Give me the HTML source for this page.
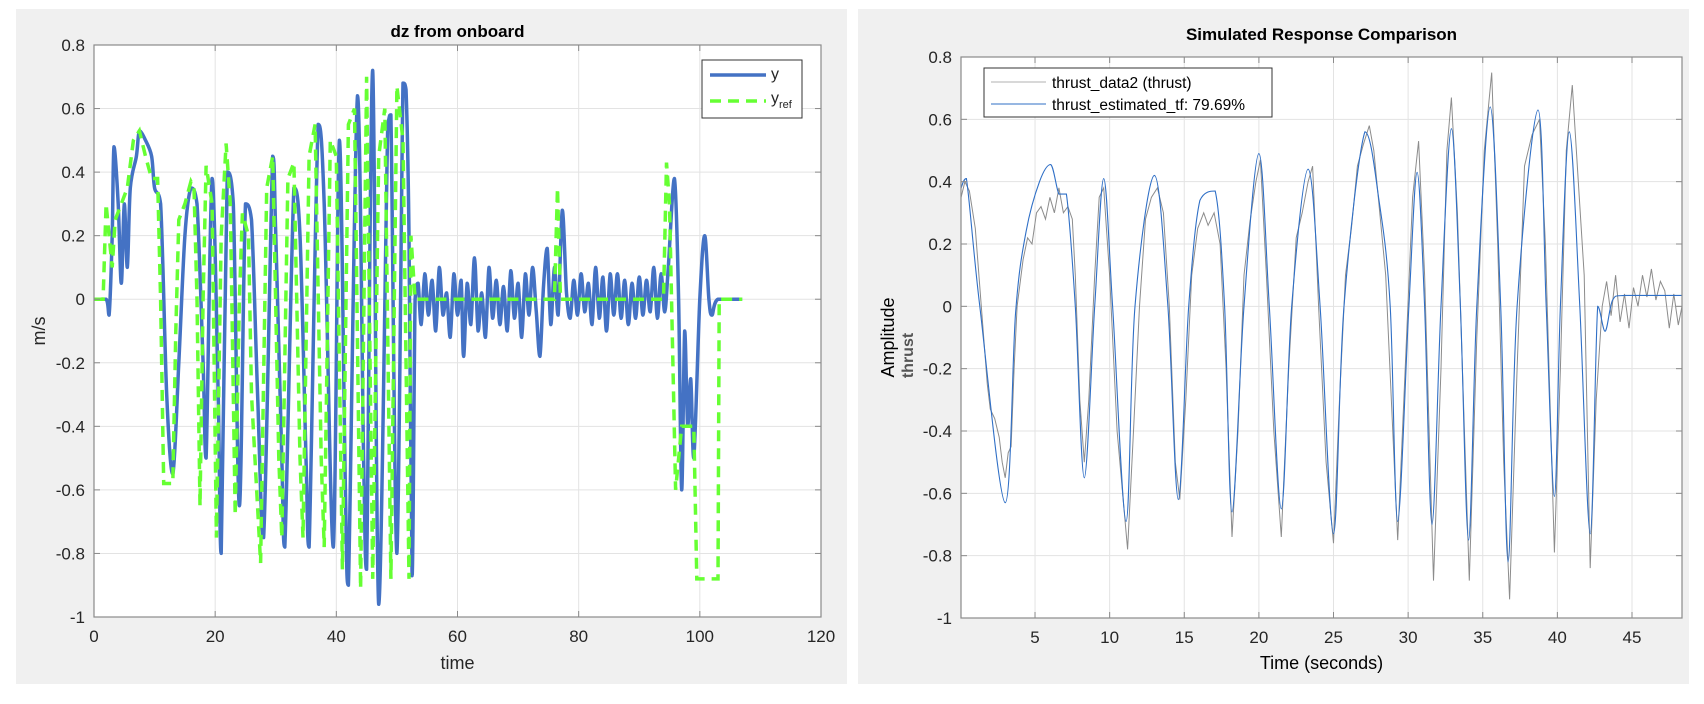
<!DOCTYPE html>
<html><head><meta charset="utf-8">
<style>
html,body{margin:0;padding:0;background:#fff;}
body{width:1704px;height:699px;overflow:hidden;font-family:"Liberation Sans",sans-serif;}
svg text{font-family:"Liberation Sans",sans-serif;}
</style></head>
<body>
<svg id="root" width="1704" height="699" xmlns="http://www.w3.org/2000/svg">
<rect x="0" y="0" width="1704" height="699" fill="#ffffff"/>
<rect x="16" y="9" width="831" height="675" fill="#f0f0f0"/>
<rect x="858" y="9" width="831" height="675" fill="#f0f0f0"/>
<g id="left"></g>
<g id="right"></g>
</svg>
<script>
// ---------- LEFT CHART DATA ----------
const leftXTicks = [0,20,40,60,80,100,120];
const leftYTicks = [0.8,0.6,0.4,0.2,0,-0.2,-0.4,-0.6,-0.8,-1];
const yTimes = [0,2,2.5,3,3.3,4,4.5,5,5.5,6,7,7.5,8.5,9.5,10,11,12,13,14,15,16,17,18,18.5,19.5,20.5,21,22,23,24,25,26,27,28,29.5,30,31,31.5,33,34,35,35.5,37,38,39.5,40.5,41.5,42,43.5,44.5,45,46,47,48.5,49,50,51,51.5,52,52.5,53,53.5,54,54.6,55.2,55.8,56.4,57,57.6,58.2,58.8,59.4,60,60.6,61,61.6,62.2,62.8,63.4,64,64.6,65.2,65.8,66.4,67,67.6,68.2,68.8,69.4,70,70.6,71.2,71.8,72.4,73,73.6,74.2,74.8,75.4,76,76.6,77.3,78,78.6,79.2,79.8,80.4,81,81.6,82.2,82.8,83.4,84,84.6,85.2,85.8,86.4,87,87.6,88.2,88.8,89.4,90,90.6,91.2,91.8,92.4,93,93.6,94.2,94.8,95.8,96.5,97,97.5,98,98.5,99,100,100.8,101.5,102,103,107];
const yValues = [0,0,-0.05,0.2,0.48,0.3,0.05,0.3,0.1,0.35,0.45,0.53,0.5,0.45,0.35,0.3,-0.3,-0.55,-0.2,0.2,0.35,0.3,-0.2,-0.5,0.38,-0.3,-0.8,0.4,0.3,-0.65,0.3,0.25,-0.3,-0.75,0.45,0.2,-0.5,-0.78,0.35,0.2,-0.5,-0.78,0.55,0.3,-0.78,0.5,-0.6,-0.9,0.64,-0.5,-0.85,0.72,-0.96,0.55,0.58,-0.8,0.68,0.66,0.2,-0.87,0.0,0.05,-0.08,0.08,-0.05,0.06,-0.1,0.1,-0.05,0.02,-0.12,0.08,-0.05,0.06,-0.18,0.05,-0.08,0.13,-0.1,0.02,-0.12,0.1,-0.06,0.06,-0.08,0.04,-0.1,0.09,-0.06,0.05,-0.12,0.08,-0.05,0.1,-0.04,-0.18,0.04,0.16,-0.08,0.1,-0.05,0.28,0.02,-0.06,0.06,-0.05,0.08,-0.04,0.05,-0.08,0.1,-0.06,0.07,-0.1,0.08,-0.05,0.08,-0.06,0.06,-0.08,0.05,-0.06,0.07,-0.05,0.06,-0.04,0.1,-0.06,0.08,-0.04,0.1,0.38,0,-0.6,-0.1,-0.4,-0.25,-0.5,0,0.2,0,-0.05,0,0];
const refTimes = [0,1.5,2,2.5,3,3.5,4.5,5.5,6.5,7.5,8.5,9.5,10.5,11,11.5,13,13.5,14,15,16,16.5,17,17.5,18,18.5,19.5,20.2,21,21.8,22.5,23.3,24,24.5,25.5,26,27.5,28.5,29.5,30.5,31,32,33,34,34.5,35.5,36.5,37.5,38,39,40,41,42,43,44,45,46,47,48,49,50,51,52,52.3,53,76,76.5,77,94,94.5,95,96,97,99,99.5,103,103.2,107];
const refValues = [0,0,0.3,0.2,0.1,0.25,0.3,0.35,0.5,0.53,0.45,0.38,0.38,0,-0.58,-0.58,-0.1,0.25,0.3,0.37,0.35,0,-0.65,0,0.42,0.3,-0.75,0.2,0.49,0.3,-0.68,0,0.27,0.2,-0.3,-0.83,0.35,0.45,-0.5,-0.75,0.38,0.43,-0.5,-0.75,0.45,0.55,-0.5,-0.78,0.5,0.45,-0.85,0.55,0.6,-0.91,0.7,-0.88,0.45,0.6,-0.88,0.67,0.5,-0.88,0.2,0,0,0.35,0,0,0.43,0.3,-0.6,-0.4,-0.4,-0.88,-0.88,0,0];

// ---------- RIGHT CHART DATA ----------
const rightXTicks = [5,10,15,20,25,30,35,40,45];
const rightYTicks = [0.8,0.6,0.4,0.2,0,-0.2,-0.4,-0.6,-0.8,-1];
const estTimes = [0.05,0.4,1.3,3.0,3.7,4.4,5.3,6.05,6.6,7.1,7.7,8.3,9.0,9.6,10.2,11.1,11.7,13.0,13.9,14.6,15.3,16.05,17.07,17.7,18.2,19.0,20.0,20.7,21.5,22.2,23.3,24.1,25.0,25.7,27.1,28.05,28.8,29.3,30.05,30.6,31.1,31.6,32.2,32.9,33.5,34.05,34.6,35.5,36.2,36.7,37.3,38.7,39.25,39.8,40.2,40.8,41.5,42.2,42.7,43.2,43.7,44.5,48.35];
const estValues = [0.38,0.41,0,-0.63,-0.02,0.24,0.4,0.455,0.36,0.36,0,-0.55,0,0.41,0,-0.69,0,0.42,0,-0.62,0,0.34,0.37,0,-0.66,0,0.49,0,-0.65,0,0.44,0,-0.73,0,0.56,0.34,0,-0.69,0,0.43,0,-0.7,0,0.57,0,-0.75,0,0.64,0,-0.82,0,0.63,0,-0.61,0,0.56,0,-0.73,0,-0.08,0.02,0.035,0.035];
const dataTimes = [0.05,0.3,0.6,1,1.4,1.8,2,2.3,2.6,2.8,3.0,3.2,3.4,3.6,3.8,4.2,4.5,4.8,5.1,5.4,5.7,6,6.3,6.6,6.9,7.2,7.5,7.7,8,8.3,8.6,9,9.3,9.6,10,10.5,11.2,11.6,12,12.4,12.8,13.2,13.6,14,14.4,14.7,15.1,15.5,15.9,16.3,16.6,17,17.4,17.8,18.2,18.6,19,19.4,19.8,20.1,20.5,21,21.5,22,22.5,22.9,23.3,23.6,24,24.5,25,25.4,25.8,26.2,26.6,27,27.4,27.7,28,28.5,29.3,29.8,30.3,30.7,31.1,31.7,32.2,32.6,32.9,33.3,33.7,34.1,34.6,35.1,35.6,36,36.4,36.8,37.3,37.8,38.3,38.8,39.2,39.8,40.2,40.6,41,41.4,41.8,42.2,42.6,43,43.3,43.6,43.9,44.2,44.5,44.8,45.1,45.4,45.7,46,46.3,46.6,46.9,47.2,47.5,47.8,48.1,48.35];
const dataValues = [0.35,0.4,0.37,0.25,0,-0.25,-0.33,-0.36,-0.42,-0.5,-0.55,-0.47,-0.45,-0.2,0,0.15,0.22,0.2,0.3,0.32,0.28,0.35,0.3,0.38,0.3,0.32,0.28,0.1,-0.3,-0.5,-0.3,0.1,0.35,0.38,0.1,-0.4,-0.78,-0.4,0,0.28,0.35,0.38,0.3,0,-0.5,-0.62,-0.3,0.1,0.25,0.3,0.26,0.3,0.2,-0.2,-0.74,-0.4,0.1,0.27,0.4,0.47,0.1,-0.4,-0.74,-0.2,0.22,0.3,0.4,0.45,0,-0.5,-0.76,-0.3,0.1,0.25,0.45,0.52,0.58,0.5,0.35,0.1,-0.75,-0.2,0.35,0.53,0.1,-0.88,-0.2,0.5,0.67,0.3,-0.3,-0.88,-0.1,0.5,0.75,0.2,-0.5,-0.94,-0.2,0.45,0.55,0.6,0.2,-0.79,-0.2,0.5,0.71,0.4,0.1,-0.84,-0.3,0,0.08,-0.03,0.1,-0.05,0.04,-0.07,0.06,0.0,0.1,0.03,0.12,0.02,0.08,0.05,-0.07,0.04,-0.06,0.0];

const NS='http://www.w3.org/2000/svg';
function mk(parent,tag,attrs){const e=document.createElementNS(NS,tag);for(const k in attrs)e.setAttribute(k,attrs[k]);parent.appendChild(e);return e;}
function fmt(v){return (Math.round(v*10)/10).toString();}
function linePath(ts,vs,sx,sy){return ts.map((t,i)=>(i?'L':'M')+sx(t).toFixed(1)+','+sy(vs[i]).toFixed(1)).join('');}
function smoothPath(ts,vs,sx,sy){
  const p=ts.map((t,i)=>[sx(t),sy(vs[i])]);
  let d='M'+p[0][0].toFixed(1)+','+p[0][1].toFixed(1);
  const cl=(v,a,b)=>Math.max(Math.min(a,b),Math.min(Math.max(a,b),v));
  for(let i=0;i<p.length-1;i++){
    const p0=p[i-1]||p[i],p1=p[i],p2=p[i+1],p3=p[i+2]||p2;
    const c1=[p1[0]+(p2[0]-p0[0])/6,cl(p1[1]+(p2[1]-p0[1])/6,p1[1],p2[1])];
    const c2=[p2[0]-(p3[0]-p1[0])/6,cl(p2[1]-(p3[1]-p1[1])/6,p1[1],p2[1])];
    d+='C'+c1[0].toFixed(1)+','+c1[1].toFixed(1)+' '+c2[0].toFixed(1)+','+c2[1].toFixed(1)+' '+p2[0].toFixed(1)+','+p2[1].toFixed(1);
  }
  return d;
}
function axes(g,L,T,R,B,xT,yT,sx,sy){
  mk(g,'rect',{x:L,y:T,width:R-L,height:B-T,fill:'#fff'});
  xT.forEach(v=>{const x=sx(v);const ln=mk(g,'line',{x1:x,y1:T,x2:x,y2:B,stroke:'#e3e3e3','stroke-width':1});
    
    });
  yT.forEach(v=>{const y=sy(v);const ln=mk(g,'line',{x1:L,y1:y,x2:R,y2:y,stroke:'#e3e3e3','stroke-width':1});
    
    });
}
function frame(g,L,T,R,B,xT,yT,sx,sy){
  mk(g,'rect',{x:L,y:T,width:R-L,height:B-T,fill:'none',stroke:'#8a8a8a','stroke-width':1.2});
  xT.forEach(v=>{const x=sx(v);mk(g,'line',{x1:x,y1:B,x2:x,y2:B-6,stroke:'#8a8a8a'});mk(g,'line',{x1:x,y1:T,x2:x,y2:T+6,stroke:'#8a8a8a'});
    const t=mk(g,'text',{x:x,y:B+25,'text-anchor':'middle','font-size':17,fill:'#262626'});t.textContent=v;
    
    });
  yT.forEach(v=>{const y=sy(v);mk(g,'line',{x1:L,y1:y,x2:L+6,y2:y,stroke:'#8a8a8a'});mk(g,'line',{x1:R,y1:y,x2:R-6,y2:y,stroke:'#8a8a8a'});
    const t=mk(g,'text',{x:L-9,y:y+6,'text-anchor':'end','font-size':17,fill:'#262626'});t.textContent=fmt(v);
    
    });
}

// LEFT
(function(){
  const g=document.getElementById('left');
  const L=94,T=45,R=821,B=617;
  const sx=t=>L+(t-0)/(120-0)*(R-L);
  const sy=v=>T+(0.8-v)/(0.8-(-1))*(B-T);
  axes(g,L,T,R,B,leftXTicks,leftYTicks,sx,sy);
  const clip=mk(g,'clipPath',{id:'cl'});mk(clip,'rect',{x:L,y:T,width:R-L,height:B-T});
  const pb=mk(g,'path',{d:smoothPath(yTimes,yValues,sx,sy),fill:'none',stroke:'#4472c4','stroke-width':3.5,'stroke-linejoin':'round','clip-path':'url(#cl)'});
  
  
  const pg=mk(g,'path',{d:linePath(refTimes,refValues,sx,sy),fill:'none',stroke:'#66ff33','stroke-width':3.5,'stroke-dasharray':'11,7','clip-path':'url(#cl)'});
  
  
  frame(g,L,T,R,B,leftXTicks,leftYTicks,sx,sy);
  const ti=mk(g,'text',{x:(L+R)/2,y:37,'text-anchor':'middle','font-size':17,'font-weight':'bold',fill:'#000'});ti.textContent='dz from onboard';
  
  
  const xl=mk(g,'text',{x:(L+R)/2,y:669,'text-anchor':'middle','font-size':18,fill:'#262626'});xl.textContent='time';
  
  
  const yl=mk(g,'text',{x:0,y:0,'text-anchor':'middle','font-size':18,fill:'#262626',transform:'translate(45,'+((T+B)/2)+') rotate(-90)'});yl.textContent='m/s';
  
  
  const lg=mk(g,'g',{});
  
  
  mk(lg,'rect',{x:702,y:60,width:100,height:58,fill:'#fff',stroke:'#333','stroke-width':1});
  mk(lg,'line',{x1:710,y1:75,x2:766,y2:75,stroke:'#4472c4','stroke-width':3.5});
  mk(lg,'line',{x1:710,y1:101,x2:766,y2:101,stroke:'#66ff33','stroke-width':3.5,'stroke-dasharray':'11,7'});
  const t1=mk(lg,'text',{x:771,y:79,'font-size':16,fill:'#262626'});t1.textContent='y';
  
  
  const t2=mk(lg,'text',{x:771,y:103,'font-size':16,fill:'#262626'});t2.innerHTML='y<tspan font-size="11" dy="5">ref</tspan>';
  
  
})();

// RIGHT
(function(){
  const g=document.getElementById('right');
  const L=961,T=57,R=1682,B=618;
  const x0=0.04,x1=48.35;
  const sx=t=>L+(t-x0)/(x1-x0)*(R-L);
  const sy=v=>T+(0.8-v)/(1.8)*(B-T);
  axes(g,L,T,R,B,rightXTicks,rightYTicks,sx,sy);
  const clip=mk(g,'clipPath',{id:'cr'});mk(clip,'rect',{x:L,y:T,width:R-L,height:B-T});
  const pd=mk(g,'path',{d:linePath(dataTimes,dataValues,sx,sy),fill:'none',stroke:'#8c8c8c','stroke-width':1,'clip-path':'url(#cr)'});
  
  
  const pe=mk(g,'path',{d:smoothPath(estTimes,estValues,sx,sy),fill:'none',stroke:'#2f6fc6','stroke-width':1.1,'clip-path':'url(#cr)'});
  
  
  frame(g,L,T,R,B,rightXTicks,rightYTicks,sx,sy);
  const ti=mk(g,'text',{x:(L+R)/2,y:40,'text-anchor':'middle','font-size':17,'font-weight':'bold',fill:'#000'});ti.textContent='Simulated Response Comparison';
  
  
  const xl=mk(g,'text',{x:(L+R)/2,y:669,'text-anchor':'middle','font-size':18,fill:'#000'});xl.textContent='Time (seconds)';
  
  
  const yl=mk(g,'text',{x:0,y:0,'text-anchor':'middle','font-size':18,fill:'#000',transform:'translate(894,'+((T+B)/2)+') rotate(-90)'});yl.textContent='Amplitude';
  
  
  const yl2=mk(g,'text',{x:0,y:0,'text-anchor':'middle','font-size':16,'font-weight':'bold',fill:'#555',transform:'translate(913,'+((T+B)/2+18)+') rotate(-90)'});yl2.textContent='thrust';
  
  
  const lg=mk(g,'g',{});
  
  
  mk(lg,'rect',{x:984,y:68,width:288,height:49,fill:'#fff',stroke:'#333','stroke-width':1});
  mk(lg,'line',{x1:991,y1:82,x2:1046,y2:82,stroke:'#b0b0b0','stroke-width':1});
  mk(lg,'line',{x1:991,y1:104,x2:1046,y2:104,stroke:'#2f6fc6','stroke-width':1});
  const t1=mk(lg,'text',{x:1052,y:88,'font-size':15.5,fill:'#000'});t1.textContent='thrust_data2 (thrust)';
  
  
  const t2=mk(lg,'text',{x:1052,y:110,'font-size':15.5,fill:'#000'});t2.textContent='thrust_estimated_tf: 79.69%';
  
  
})();
</script>
</body></html>
